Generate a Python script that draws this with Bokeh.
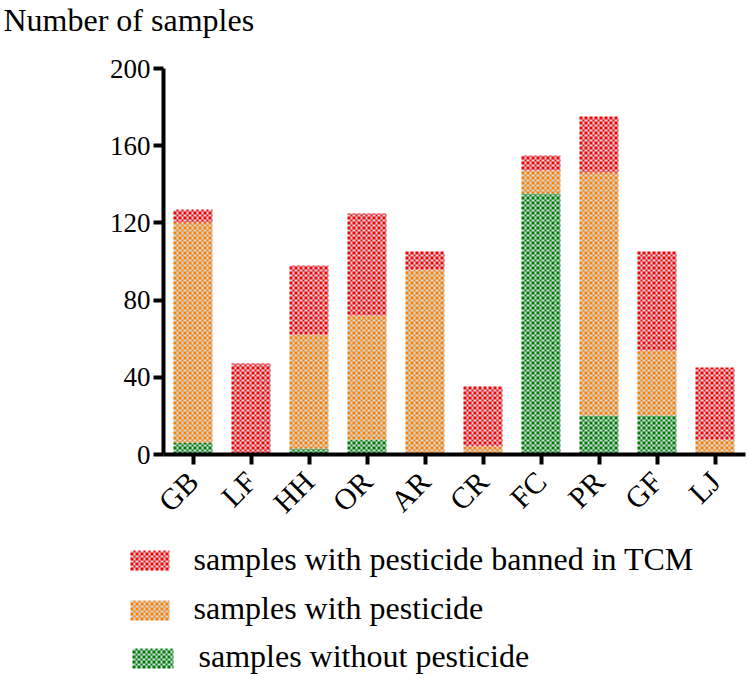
import numpy as np
from bokeh.plotting import figure
from bokeh.layouts import column
from bokeh.models import Range1d, FixedTicker
from bokeh.core.properties import value
from bokeh.embed import file_html
from bokeh.resources import INLINE

# ---- data ----
categories = ["GB", "LF", "HH", "OR", "AR", "CR", "FC", "PR", "GF", "LJ"]
without_pesticide = [6, 0, 3, 8, 0, 0, 135, 20, 20, 0]
with_pesticide = [114, 0, 59, 64, 96, 4, 12, 126, 34, 8]
banned_in_tcm = [7, 47, 36, 53, 9, 31, 8, 29, 51, 37]
y_ticks = [0, 40, 80, 120, 160, 200]
legend_labels = ["samples with pesticide banned in TCM",
                 "samples with pesticide",
                 "samples without pesticide"]
y_title = "Number of samples"

FONT = "Liberation Serif"
BG = (208, 220, 228)
RED, ORANGE, GREEN = (255, 0, 0), (255, 128, 0), (0, 125, 0)
CELL = 2.5

# ---- layout (pixels) ----
W = 749
PPU_X = 58.0
FRAME_W, FRAME_H = 582, 386
BORDER_L, BORDER_R, BORDER_T, BORDER_B = 163, 4, 22, 82
X_START = -29.5 / PPU_X
X_END = X_START + FRAME_W / PPU_X
Y_END = 200
BAR_PX = 39
BAR_W = BAR_PX / PPU_X
ppu_y = FRAME_H / Y_END
TEXT_SHIFT = 11  # text glyph baseline correction (px)


def checker(w_px, h_px, color, row0=0, col0=0):
    arr = np.empty((h_px, w_px), dtype=np.uint32)
    v = arr.view(dtype=np.uint8).reshape((h_px, w_px, 4))
    rr = (np.arange(h_px) + row0)[:, None]
    cc = (np.arange(w_px) + col0)[None, :]
    mask = ((np.floor(rr / CELL) + np.floor(cc / CELL)) % 2) == 0
    for k in range(3):
        v[..., k] = np.where(mask, color[k], BG[k])
    v[..., 3] = 255
    return arr


x = np.arange(len(categories))
layers = [(np.array(without_pesticide, float), GREEN),
          (np.array(with_pesticide, float), ORANGE),
          (np.array(banned_in_tcm, float), RED)]

# ---- title figure ----
TITLE_H = 46
pt = figure(width=W, height=TITLE_H, output_backend="svg", toolbar_location=None,
            x_range=Range1d(0, W), y_range=Range1d(0, TITLE_H),
            x_axis_location=None, y_axis_location=None, min_border=0,
            frame_align=False)
pt.outline_line_color = None
pt.grid.grid_line_color = None
pt.text(x=[3], y=[TITLE_H - 30 + TEXT_SHIFT], text=[y_title], text_font=value(FONT),
        text_font_size="32px", text_color="black", text_baseline="alphabetic",
        text_align="left")

# ---- main chart ----
p = figure(width=W, height=BORDER_T + FRAME_H + BORDER_B, output_backend="svg",
           toolbar_location=None, frame_align=False,
           x_range=Range1d(X_START, X_END), y_range=Range1d(0, Y_END),
           min_border_left=BORDER_L, min_border_right=BORDER_R,
           min_border_top=BORDER_T, min_border_bottom=BORDER_B)
p.outline_line_color = None
p.grid.grid_line_color = None

bottom = np.zeros(len(categories))
for vals, col in layers:
    imgs, xs, ys, dws, dhs = [], [], [], [], []
    for i in range(len(categories)):
        if vals[i] <= 0:
            continue
        # snap the segment to whole screen pixels so the checker stays crisp
        r0 = int(round(bottom[i] * ppu_y))
        r1 = int(round((bottom[i] + vals[i]) * ppu_y))
        h_px = max(1, r1 - r0)
        imgs.append(checker(BAR_PX, h_px, col, row0=r0))
        xs.append(x[i] - BAR_W / 2)
        ys.append(r0 / ppu_y)
        dws.append(BAR_W)
        dhs.append(h_px / ppu_y)
    p.image_rgba(image=imgs, x=xs, y=ys, dw=dws, dh=dhs)
    bottom = bottom + vals

for ax in (p.xaxis[0], p.yaxis[0]):
    ax.axis_line_width = 4
    ax.axis_line_color = "black"
    ax.major_tick_line_width = 4
    ax.major_tick_line_color = "black"
    ax.major_tick_out = 10
    ax.major_tick_in = 0
    ax.minor_tick_line_color = None
    ax.major_label_text_font = FONT
    ax.major_label_text_color = "black"

p.yaxis.ticker = FixedTicker(ticks=y_ticks)
p.yaxis.major_label_standoff = 3
p.yaxis.major_label_text_font_size = "27px"
p.xaxis.ticker = FixedTicker(ticks=list(x))
p.xaxis.major_label_overrides = {int(i): c for i, c in zip(x, categories)}
p.xaxis.major_label_orientation = np.pi / 4
p.xaxis.major_label_standoff = 12
p.xaxis.major_label_text_font_size = "30px"

# ---- legend figure ----
LEG_H = 679 - TITLE_H - (BORDER_T + FRAME_H + BORDER_B)
pl = figure(width=W, height=LEG_H, output_backend="svg", toolbar_location=None,
            x_range=Range1d(0, W), y_range=Range1d(0, LEG_H),
            x_axis_location=None, y_axis_location=None, min_border=0,
            frame_align=False)
pl.outline_line_color = None
pl.grid.grid_line_color = None
leg_colors = [RED, ORANGE, GREEN]
patch_x = [130, 130, 132]
patch_w = [39, 39, 41]
patch_top = [14, 64, 112]      # offset from legend-figure top
text_x = [193, 193, 198]
text_base = [33, 82, 130]      # baseline offset from legend-figure top
for k in range(3):
    img = checker(patch_w[k], 20, leg_colors[k])
    pl.image_rgba(image=[img], x=[patch_x[k]], y=[LEG_H - patch_top[k] - 20],
                  dw=[patch_w[k]], dh=[20])
pl.text(x=text_x, y=[LEG_H - b + TEXT_SHIFT for b in text_base],
        text=legend_labels,
        text_font=value(FONT), text_font_size="32px", text_color="black",
        text_baseline="alphabetic", text_align="left")

layout = column(pt, p, pl, spacing=0)
open("out.html", "w").write(file_html(layout, INLINE))
